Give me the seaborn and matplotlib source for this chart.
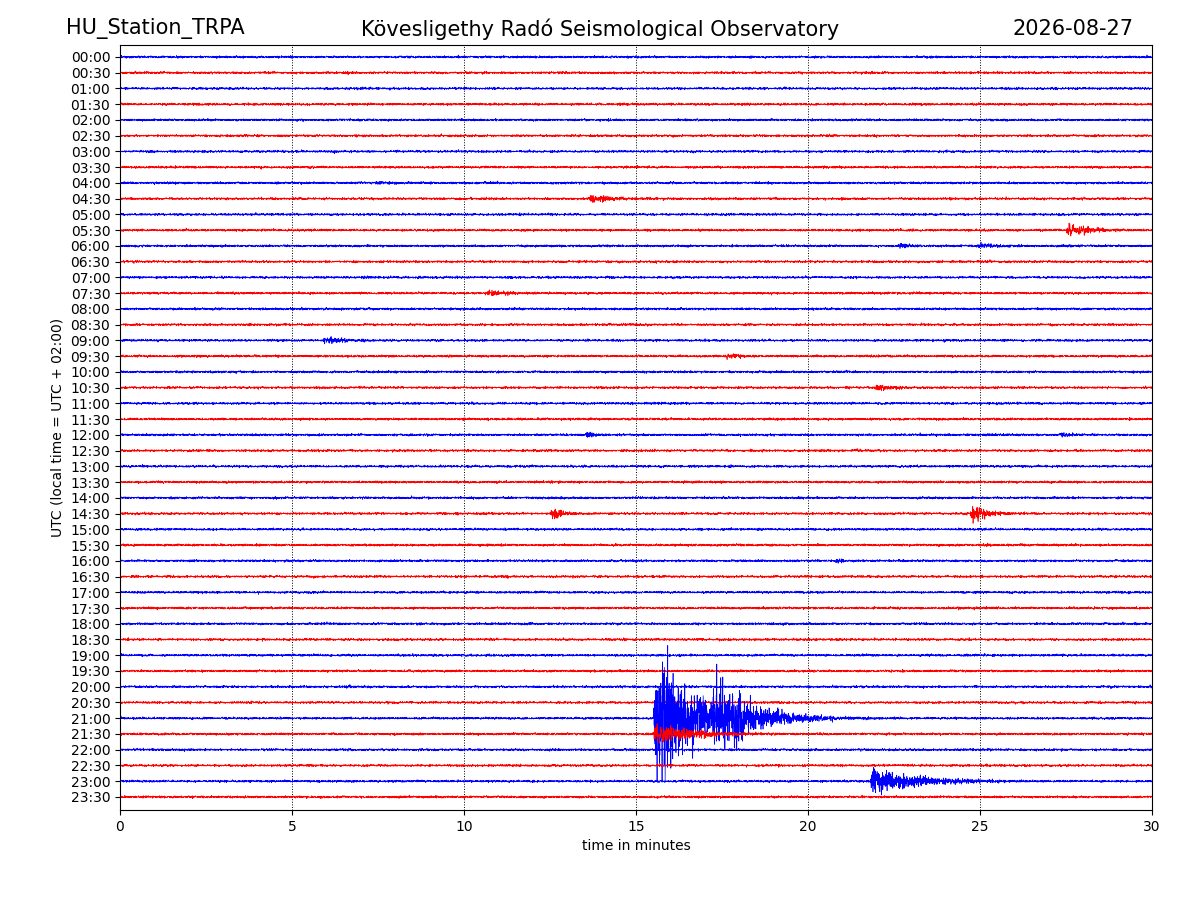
import numpy as np
import pandas as pd
import matplotlib
matplotlib.use('Agg')
import matplotlib.pyplot as plt
import seaborn as sns

station = 'HU_Station_TRPA'
observatory = 'Kövesligethy Radó Seismological Observatory'
day = '2026-08-27'
row_labels = ['%02d:%02d' % (h, m) for h in range(24) for m in (0, 30)]
trace_colors = ['blue', 'red']

# events: row, start minute, amplitude, duration (min)
ev_row = [1, 2, 8, 9, 11, 12, 12, 15, 18, 19, 21, 24, 24, 29, 29, 32, 40, 42, 42, 43, 44, 46, 46]
ev_start = [6.5, 25.7, 7.4, 13.6, 27.5, 22.6, 24.9, 10.6, 5.9, 17.6, 21.9, 13.5, 27.3, 12.5, 24.7, 20.8, 6.5, 15.5, 17.2, 15.5, 25.2, 21.8, 25.2]
ev_amp = [0.1, 0.2, 0.15, 0.4, 0.55, 0.25, 0.25, 0.35, 0.3, 0.25, 0.25, 0.35, 0.3, 0.55, 0.7, 0.3, 0.15, 4.7, 2.6, 0.8, 0.25, 1.0, 0.25]
ev_dur = [1.0, 0.3, 1.2, 1.4, 1.4, 1.0, 1.4, 1.0, 1.4, 1.0, 1.4, 0.4, 0.6, 0.7, 1.0, 0.4, 0.5, 3.0, 2.2, 2.5, 0.3, 3.0, 0.4]
noise_level = 0.08

rng = np.random.default_rng(3)
t = np.linspace(0, 30, 6000)
rows = []
for i, lab in enumerate(row_labels):
    y = rng.normal(0, noise_level / 2.5, t.size)
    for r, s, a, d in zip(ev_row, ev_start, ev_amp, ev_dur):
        if r == i:
            m = t >= s
            env = np.zeros_like(t)
            dt = t[m] - s
            env[m] = (1 - np.exp(-dt / 0.04)) * np.exp(-dt / (d / 2.2))
            y += a * env * rng.normal(0, 0.45, t.size)
    rows.append(pd.DataFrame({'t': t, 'y': y - i, 'row': lab}))
df = pd.concat(rows, ignore_index=True)

fig = plt.figure(figsize=(12, 9), dpi=100)
ax = fig.add_axes([0.1, 0.1, 0.86, 0.85])
palette = {lab: trace_colors[i % 2] for i, lab in enumerate(row_labels)}
sns.lineplot(data=df, x='t', y='y', hue='row', palette=palette, lw=0.5,
             legend=False, ax=ax, estimator=None, sort=False)
ax.set_xlim(0, 30)
ax.set_ylim(-47.83, 0.76)
ax.set_yticks(-np.arange(48))
ax.set_yticklabels(row_labels)
ax.set_xticks([0, 5, 10, 15, 20, 25, 30])
ax.grid(axis='x', color='black', linestyle=':', lw=0.7)
ax.set_xlabel('time in minutes')
ax.set_ylabel('UTC (local time = UTC + 02:00)')
fig.text(0.055, 0.968, station, fontsize=15, ha='left', va='center')
fig.text(0.5, 0.968, observatory, fontsize=15, ha='center', va='center')
fig.text(0.945, 0.968, day, fontsize=15, ha='right', va='center')
fig.savefig('out.png', dpi=100)
